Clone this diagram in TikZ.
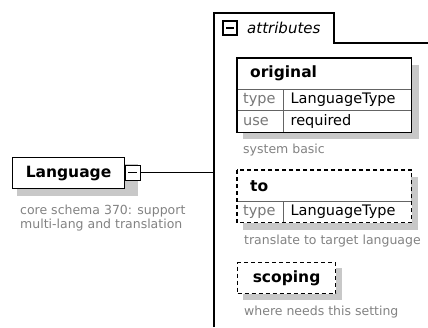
\documentclass[tikz,border=0pt]{standalone}
\usepackage{fontspec}
\setmainfont{DejaVu Sans}[ItalicFont={DejaVu Sans Oblique}, BoldItalicFont={DejaVu Sans Bold Oblique}]
\usetikzlibrary{positioning, backgrounds, calc}

\definecolor{descgray}{RGB}{130,130,130}
\definecolor{keygray}{RGB}{120,120,120}
\definecolor{shadowgray}{RGB}{200,200,200}
\definecolor{linegray}{RGB}{100,100,100}
\newcommand{\namefont}{\fontsize{15.5}{18}\selectfont\bfseries}
\newcommand{\cellfont}{\fontsize{14.5}{17}\selectfont}
\newcommand{\descfont}{\fontsize{12.5}{14}\selectfont}
\newcommand{\tabfont}{\fontsize{15}{18}\selectfont\itshape}

\begin{document}
\begin{tikzpicture}[
        x=1pt, y=-1pt,
        elembox/.style={draw, line width=1.1pt, fill=white, font=\namefont, anchor=north west, minimum width=112pt, minimum height=31pt, inner sep=0pt},
        toggle/.style={draw, line width=0.9pt, fill=white, minimum size=15pt, inner sep=0pt,
            path picture={\draw ([xshift=3pt]path picture bounding box.west) -- ([xshift=-3pt]path picture bounding box.east);}},
        headcell/.style={fill=white, font=\namefont, anchor=north west, inner xsep=13pt, inner ysep=0pt, text width=148pt, minimum height=31pt, align=left},
        keycell/.style={fill=white, font=\cellfont, text=keygray, inner xsep=6pt, inner ysep=0pt, text width=34pt, minimum height=21pt, align=left},
        valcell/.style={fill=white, font=\cellfont, inner xsep=7pt, inner ysep=0pt, text width=114pt, minimum height=21pt, align=left},
        desc/.style={font=\descfont, text=descgray, inner sep=0pt, align=left},
        shadowfill/.style={fill=shadowgray},
        innerline/.style={draw=linegray, line width=0.9pt},
        boxline/.style={draw=black, line width=1.1pt},
        optbox/.style={dash pattern=on 4pt off 3pt}
    ]
    \useasboundingbox (0,0) rectangle (428,327);

    % element and its button
    \node[elembox] (lang) at (12,157) {Language};
    \node[toggle] (langbtn) at (132.5,172.5) {};
    \node[desc, below right=16pt and 8pt of lang.south west] (langdesc) {core schema 370: support\\multi-lang and translation};

    % attributes group with tab
    \coordinate (grptop) at (214,13);
    \coordinate (grpbot) at (214,327);
    \draw[boxline] (grpbot) -- (grptop) -- (334,13) -- (334,43) -- (428,43);
    \node[toggle, minimum size=14pt, line width=1.3pt] (attrbtn) at (230,28) {};
    \node[font=\tabfont, anchor=west, inner sep=0pt] (attrlabel) at (247,28) {attributes};
    \draw[line width=1.1pt] (langbtn.east) -- (langbtn.east -| grptop);

    % attribute: original
    \node[headcell] (orig) at (237,58) {original};
    \node[keycell, below right=0pt and 0pt of orig.south west] (origtype) {type};
    \node[valcell, right=0pt of origtype] (origtypeval) {LanguageType};
    \node[keycell, below=0pt of origtype] (origuse) {use};
    \node[valcell, right=0pt of origuse] (origuseval) {required};
    \draw[innerline] (origtype.north west) -- (origtypeval.north east);
    \draw[innerline] (origuse.north west) -- (origuseval.north east);
    \draw[innerline] (origtype.north east) -- (origuse.south east);
    \draw[boxline] (orig.north west) rectangle (origuseval.south east);
    \node[desc, below right=12pt and 6pt of origuse.south west] (origdesc) {system basic};

    % attribute: to
    \node[headcell] (to) at (237,170) {to};
    \node[keycell, below right=0pt and 0pt of to.south west] (totype) {type};
    \node[valcell, right=0pt of totype] (totypeval) {LanguageType};
    \draw[innerline] (totype.north west) -- (totypeval.north east);
    \draw[innerline] (totype.north east) -- (totype.south east);
    \draw[boxline, optbox] (to.north west) rectangle (totypeval.south east);
    \node[desc, below right=12pt and 7pt of totype.south west] (todesc) {translate to target language};

    % attribute: scoping
    \node[elembox, boxline, optbox, minimum width=98pt] (scoping) at (237,262) {scoping};
    \node[desc, below right=12pt and 7pt of scoping.south west] (scopingdesc) {where needs this setting};

    % shadows
    \begin{scope}[on background layer]
        \fill[shadowfill] ($(lang.north west)+(5,7)$) rectangle ($(langbtn.east |- lang.south)+(-2,7)$);
        \fill[shadowfill] ($(orig.north west)+(6,7)$) rectangle ($(origuseval.south east)+(7,7)$);
        \fill[shadowfill] ($(to.north west)+(6,7)$) rectangle ($(totypeval.south east)+(6,7)$);
        \fill[shadowfill] ($(scoping.north west)+(6,6)$) rectangle ($(scoping.south east)+(6,6)$);
    \end{scope}
\end{tikzpicture}
\end{document}
